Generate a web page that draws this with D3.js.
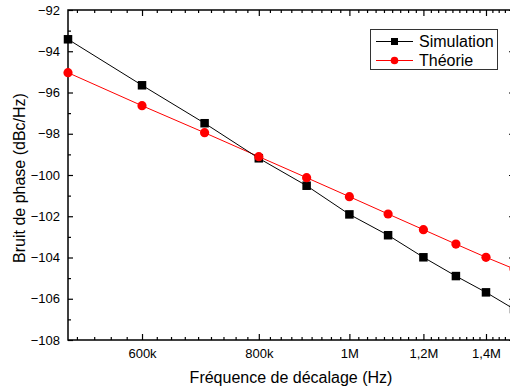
<!DOCTYPE html>
<html><head><meta charset="utf-8">
<script src="https://cdn.jsdelivr.net/npm/d3@7"></script>
<style>body{margin:0;background:#fff}svg{display:block}text{font-family:"Liberation Sans",Arial,sans-serif}</style>
</head><body>
<svg id="c" width="510" height="392"></svg>
<script>
const frequencies = [500000, 600000, 700000, 800000, 900000, 1000000, 1100000, 1200000, 1300000, 1400000, 1500000];
const simulation = [-93.42, -95.65, -97.49, -99.19, -100.52, -101.91, -102.92, -103.99, -104.90, -105.69, -106.5];
const theorie = [-95.04, -96.64, -97.95, -99.11, -100.13, -101.05, -101.89, -102.65, -103.35, -103.99, -104.55];
const xMajorTicks = [600000, 800000, 1000000, 1200000, 1400000];
const xTickLabels = ["600k", "800k", "1M", "1,2M", "1,4M"];
const yMajorTicks = [-108, -106, -104, -102, -100, -98, -96, -94, -92];
const seriesNames = ["Simulation", "Théorie"];

(function () {
const svg = d3.select("#c");
const L = 68, R = 514, T = 10, B = 340;
const x = d3.scaleLog().domain([500000, 1500000]).range([L, R]);
const y = d3.scaleLinear().domain([-108, -92]).range([B, T]);

const xMinor = [];
const step = 200000 / 9;
for (let i = 1; i <= 4; i++) xMinor.push(600000 - i * step);
for (let m = 0; m < xMajorTicks.length; m++) {
  for (let i = 1; i <= 8; i++) { const v = xMajorTicks[m] + i * step; if (v < 1500000) xMinor.push(v); }
}
const yMinor = [];
for (let v = -107; v < -92; v += 2) yMinor.push(v);

svg.append("defs").append("clipPath").attr("id", "clip").append("rect").attr("x", L).attr("y", T).attr("width", R - L).attr("height", B - T);

const fmtX = d => xTickLabels[xMajorTicks.indexOf(d)];
svg.append("g").attr("transform", `translate(0,${B})`)
  .call(d3.axisBottom(x).tickValues(xMajorTicks).tickFormat(fmtX).tickSizeInner(-6).tickSizeOuter(0).tickPadding(9));
svg.append("g").attr("transform", `translate(0,${B})`)
  .call(d3.axisBottom(x).tickValues(xMinor).tickFormat("").tickSizeInner(-3).tickSizeOuter(0));
svg.append("g").attr("transform", `translate(0,${T})`)
  .call(d3.axisTop(x).tickValues(xMajorTicks).tickFormat("").tickSizeInner(-6).tickSizeOuter(0));
svg.append("g").attr("transform", `translate(0,${T})`)
  .call(d3.axisTop(x).tickValues(xMinor).tickFormat("").tickSizeInner(-3).tickSizeOuter(0));
svg.append("g").attr("transform", `translate(${L},0)`)
  .call(d3.axisLeft(y).tickValues(yMajorTicks).tickFormat(d3.format("d")).tickSizeInner(-5).tickSizeOuter(0).tickPadding(8));
svg.append("g").attr("transform", `translate(${L},0)`)
  .call(d3.axisLeft(y).tickValues(yMinor).tickFormat("").tickSizeInner(-3).tickSizeOuter(0));
svg.append("g").attr("transform", `translate(${R},0)`)
  .call(d3.axisRight(y).tickValues(yMajorTicks).tickFormat("").tickSizeInner(-5).tickSizeOuter(0));
svg.append("g").attr("transform", `translate(${R},0)`)
  .call(d3.axisRight(y).tickValues(yMinor).tickFormat("").tickSizeInner(-3).tickSizeOuter(0));

svg.selectAll(".domain").remove();
svg.selectAll(".tick line").attr("stroke", "#000").attr("stroke-width", 1.2);
svg.selectAll(".tick text").attr("fill", "#000").style("font-size", "13px").style("font-family", '"Liberation Sans", Arial, sans-serif');

svg.append("rect").attr("x", L).attr("y", T).attr("width", R - L).attr("height", B - T)
  .attr("fill", "none").attr("stroke", "#000").attr("stroke-width", 1.5);

const plot = svg.append("g").attr("clip-path", "url(#clip)");
const simData = frequencies.map((f, i) => [f, simulation[i]]);
const thData = frequencies.map((f, i) => [f, theorie[i]]);
const line = d3.line().x(d => x(d[0])).y(d => y(d[1]));
plot.append("path").datum(thData).attr("d", line).attr("fill", "none").attr("stroke", "#ff0000").attr("stroke-width", 1);
plot.append("path").datum(simData).attr("d", line).attr("fill", "none").attr("stroke", "#000").attr("stroke-width", 1);
const ms = 8.5;
svg.append("g").selectAll("rect").data(simData).join("rect")
  .attr("x", d => x(d[0]) - ms / 2).attr("y", d => y(d[1]) - ms / 2).attr("width", ms).attr("height", ms).attr("fill", "#000");
svg.append("g").selectAll("circle").data(thData).join("circle")
  .attr("cx", d => x(d[0])).attr("cy", d => y(d[1])).attr("r", 4.6).attr("fill", "#ff0000");

const lg = svg.append("g");
lg.append("rect").attr("x", 370.5).attr("y", 29.5).attr("width", 127).attr("height", 40).attr("fill", "#fff").attr("stroke", "#333").attr("stroke-width", 1);
const lgY = [41.5, 60.5];
const colors = ["#000", "#ff0000"];
seriesNames.forEach((n, i) => {
  lg.append("line").attr("x1", 376).attr("x2", 413).attr("y1", lgY[i]).attr("y2", lgY[i]).attr("stroke", colors[i]).attr("stroke-width", 1);
  if (i === 0) lg.append("rect").attr("x", 394.5 - 3.5).attr("y", lgY[i] - 3.5).attr("width", 7).attr("height", 7).attr("fill", "#000");
  else lg.append("circle").attr("cx", 394.5).attr("cy", lgY[i]).attr("r", 3.8).attr("fill", "#ff0000");
  lg.append("text").attr("x", 419).attr("y", lgY[i] + 5.8).attr("font-size", 16).attr("fill", "#000").text(n);
});

svg.append("text").attr("x", 291).attr("y", 383).attr("text-anchor", "middle").attr("font-size", 16).attr("fill", "#000").text("Fréquence de décalage (Hz)");
svg.append("text").attr("transform", "translate(25,178) rotate(-90)").attr("text-anchor", "middle").attr("font-size", 16).attr("fill", "#000").text("Bruit de phase (dBc/Hz)");
})();
</script>
</body></html>
